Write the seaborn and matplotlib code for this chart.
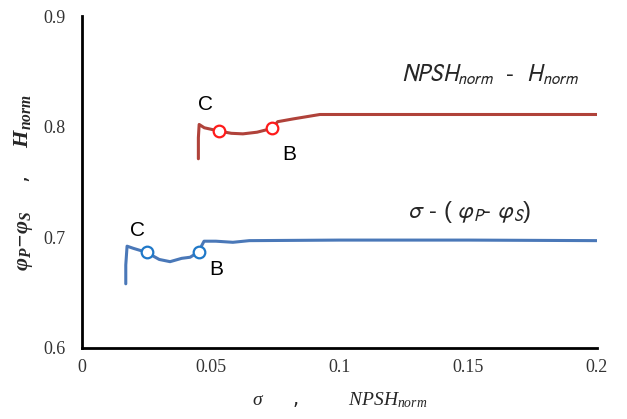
import matplotlib
matplotlib.use("Agg")
import matplotlib.pyplot as plt
import seaborn as sns
import pandas as pd

# data
red_x = [0.0452, 0.0452, 0.0455, 0.0475, 0.0533, 0.0580, 0.0625, 0.0680, 0.0739, 0.0760, 0.0820, 0.0924, 0.1200, 0.1600, 0.2000]
red_y = [0.771, 0.790, 0.802, 0.799, 0.796, 0.794, 0.7935, 0.795, 0.7985, 0.8045, 0.807, 0.811, 0.811, 0.811, 0.811]
blue_x = [0.0170, 0.0170, 0.0175, 0.0200, 0.0251, 0.0300, 0.0342, 0.0387, 0.0420, 0.0454, 0.0466, 0.0474, 0.0520, 0.0586, 0.0650, 0.1000, 0.1500, 0.2000]
blue_y = [0.658, 0.675, 0.692, 0.690, 0.6864, 0.680, 0.678, 0.681, 0.682, 0.687, 0.693, 0.6965, 0.6965, 0.6955, 0.697, 0.6975, 0.6975, 0.697]
red_pts_x = [0.0533, 0.0739]
red_pts_y = [0.796, 0.7985]
blue_pts_x = [0.0251, 0.0454]
blue_pts_y = [0.6864, 0.687]
x_ticks = [0, 0.05, 0.1, 0.15, 0.2]
x_ticklabels = ["0", "0.05", "0.1", "0.15", "0.2"]
y_ticks = [0.6, 0.7, 0.8, 0.9]
y_ticklabels = ["0.6", "0.7", "0.8", "0.9"]

sns.set_style("white")
plt.rcParams['font.family'] = ['DejaVu Sans']
plt.rcParams['mathtext.fontset'] = 'custom'
plt.rcParams['mathtext.it'] = 'Liberation Serif:italic'
plt.rcParams['mathtext.rm'] = 'Liberation Serif'
plt.rcParams['mathtext.bf'] = 'Liberation Serif:bold'
plt.rcParams['mathtext.bfit'] = 'Liberation Serif:italic:bold'

fig = plt.figure(figsize=(6.27, 4.19), dpi=100)
ax = fig.add_axes([0.1308, 0.1695, 0.8212, 0.7923])

red_df = pd.DataFrame({"x": red_x, "y": red_y})
blue_df = pd.DataFrame({"x": blue_x, "y": blue_y})
sns.lineplot(data=red_df, x="x", y="y", sort=False, color="#b0423a", lw=2.2, ax=ax, estimator=None)
sns.lineplot(data=blue_df, x="x", y="y", sort=False, color="#4a78b8", lw=2.2, ax=ax, estimator=None)
sns.scatterplot(x=red_pts_x, y=red_pts_y, s=70, facecolor="white", edgecolor="#ff1a1a", linewidth=1.6, ax=ax, zorder=5)
sns.scatterplot(x=blue_pts_x, y=blue_pts_y, s=70, facecolor="white", edgecolor="#1f78c8", linewidth=1.6, ax=ax, zorder=5)

ax.set_xlim(0, 0.2)
ax.set_ylim(0.6, 0.9)
ax.set_xticks(x_ticks)
ax.set_xticklabels(x_ticklabels)
ax.set_yticks(y_ticks)
ax.set_yticklabels(y_ticklabels)
for lab in ax.get_xticklabels() + ax.get_yticklabels():
    lab.set_family("Liberation Serif")
    lab.set_fontsize(13)
    lab.set_color("#333333")
ax.tick_params(axis='both', direction='in', length=4, width=1.5, color='black')
ax.tick_params(axis='x', pad=8)
ax.tick_params(axis='y', pad=12)
for s in ["top", "right"]:
    ax.spines[s].set_visible(False)
for s in ["left", "bottom"]:
    ax.spines[s].set_color("black")
    ax.spines[s].set_linewidth(2)

ax.set_xlabel(r"$\sigma$     ,        $NPSH_{norm}$", fontsize=14, labelpad=10)
ax.set_ylabel(r"$\mathbfit{\varphi_P\!-\!\varphi_S}$    ,    $\mathbfit{H_{norm}}$", fontsize=16, labelpad=6)

txt_kw = dict(fontsize=15, color="black", family="Liberation Sans", ha="center", va="center")
ax.text(0.0478, 0.8196, "C", **txt_kw)
ax.text(0.0806, 0.7750, "B", **txt_kw)
ax.text(0.0217, 0.7066, "C", **txt_kw)
ax.text(0.0523, 0.6705, "B", **txt_kw)

ax.text(0.1585, 0.8465, r"$NPSH_{norm}$  -  $H_{norm}$", ha="center", va="center",
        fontsize=17, family="Liberation Sans", math_fontfamily='stixsans')
ax.text(0.1505, 0.7225, r"$\sigma$ - ( $\varphi_P$- $\varphi_S$)", ha="center", va="center",
        fontsize=17, family="Liberation Sans", math_fontfamily='stixsans')

fig.savefig("out.png", dpi=100)
